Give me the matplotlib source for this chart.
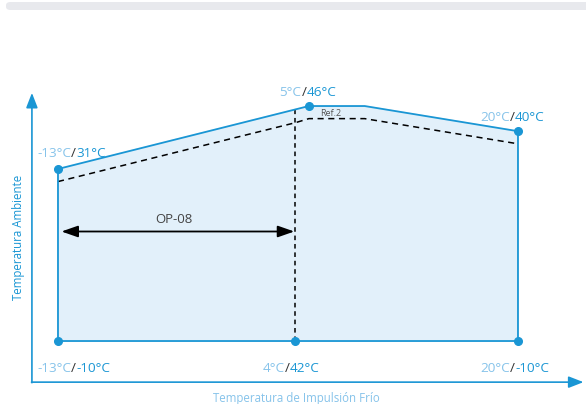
import matplotlib
matplotlib.use("Agg")
import matplotlib.pyplot as plt
from matplotlib.patches import FancyBboxPatch
import numpy as np

# ---- data ----
upper_x = [-13, 5, 9, 20]
upper_y = [31, 46, 46, 40]
dash_x = [-13, 4, 5, 9, 20]
dash_y = [28, 42, 43, 43, 37]
bottom_y = -10
corner_x = [-13, 4, 20]
op_range = [-13, 4]
op_label = "OP-08"
ref_label = "Ref.2"
top_labels = [("-13°C", "31°C"), ("5°C", "46°C"), ("20°C", "40°C")]
bottom_labels = [("-13°C", "-10°C"), ("4°C", "42°C"), ("20°C", "-10°C")]
x_title = "Temperatura de Impulsión Frío"
y_title = "Temperatura Ambiente"

BLUE = "#1a96d4"
LIGHT = "#86c3ea"
FILL = "#e2f0fa"
DARK = "#333333"
FONT = ["Open Sans", "DejaVu Sans"]

fig = plt.figure(figsize=(5.86, 4.04), dpi=100)
ax = fig.add_axes([0, 0, 1, 1])
ax.set_xlim(-17.16, 24.88)
ax.set_ylim(-25.01, 71.27)
ax.axis("off")

# top grey bar
fig.patches.append(FancyBboxPatch((6 / 586, 1 - 10 / 404), 600 / 586, 8 / 404,
                                  boxstyle="round,pad=0,rounding_size=0.008",
                                  transform=fig.transFigure, fc="#e8e9ed", ec="none"))

# polygon
poly_x = [upper_x[0]] + upper_x + [upper_x[-1]]
poly_y = [bottom_y] + upper_y + [bottom_y]
ax.fill(poly_x, poly_y, color=FILL, zorder=1)
ax.plot(poly_x + [poly_x[0]], poly_y + [poly_y[0]], color=BLUE, lw=1.3, zorder=3)

# dashed inner line
ax.plot(dash_x, dash_y, color="black", lw=1.1, ls=(0, (4, 3)), zorder=2)
# vertical dashed at x=4
top_at4 = np.interp(op_range[1], upper_x, upper_y)
ax.plot([op_range[1], op_range[1]], [bottom_y, top_at4], color="black", lw=1.1,
        ls=(0, (3, 2.5)), zorder=2)

# markers
ax.plot([upper_x[0], upper_x[1], upper_x[-1]], [upper_y[0], upper_y[1], upper_y[-1]],
        "o", color=BLUE, ms=5.5, zorder=4)
ax.plot(corner_x, [bottom_y] * 3, "o", color=BLUE, ms=5.5, zorder=4)

# axes arrows
ax.annotate("", xy=(-14.87, 49.8), xytext=(-14.87, -20.6),
            arrowprops=dict(arrowstyle="-|>,head_length=0.9,head_width=0.35", color=BLUE, lw=1.2))
ax.annotate("", xy=(24.9, -19.8), xytext=(-15.1, -19.8),
            arrowprops=dict(arrowstyle="-|>,head_length=0.9,head_width=0.35", color=BLUE, lw=1.2))

# OP-08 double arrow
ax.annotate("", xy=(op_range[0] + 0.25, 16.1), xytext=(op_range[1] - 0.05, 16.1),
            arrowprops=dict(arrowstyle="<|-|>,head_length=1.0,head_width=0.35", color="black",
                            lw=1.3, shrinkA=0, shrinkB=0))
ax.text((op_range[0] + op_range[1]) / 2 - 0.2, 19.0, op_label, ha="center", va="center",
        fontsize=9.5, color="#444444", family=FONT)
ax.text(5.8, 44.2, ref_label, ha="left", va="center", fontsize=6.5, color="#555555", family=FONT)


def multicolor(x, y, a, b, fs=9.7):
    t = ax.text(x, y, a, color=LIGHT, ha="left", va="center", fontsize=fs, family=FONT)
    t2 = ax.annotate("/", xy=(1, 0), xycoords=t, ha="left", va="bottom", color=DARK,
                     fontsize=fs, family=FONT)
    ax.annotate(b, xy=(1, 0), xycoords=t2, ha="left", va="bottom", color=BLUE,
                fontsize=fs, family=FONT, fontweight="medium")


# top labels (left-edge positions)
top_pos = [(-14.5, 34.6), (2.9, 49.3), (17.3, 43.2)]
for (a, b), (x, y) in zip(top_labels, top_pos):
    multicolor(x, y, a, b)
bot_pos = [(-14.5, -16.6), (1.7, -16.6), (17.3, -16.6)]
for (a, b), (x, y) in zip(bottom_labels, bot_pos):
    multicolor(x, y, a, b)

# axis titles
ax.text(4.1, -23.6, x_title, ha="center", va="center", fontsize=8.3, color=LIGHT, family=FONT)
ax.text(-15.85, 14.8, y_title, ha="center", va="center", fontsize=8.3, color=BLUE,
        rotation=90, family=FONT)

fig.savefig("out.png", dpi=100)
